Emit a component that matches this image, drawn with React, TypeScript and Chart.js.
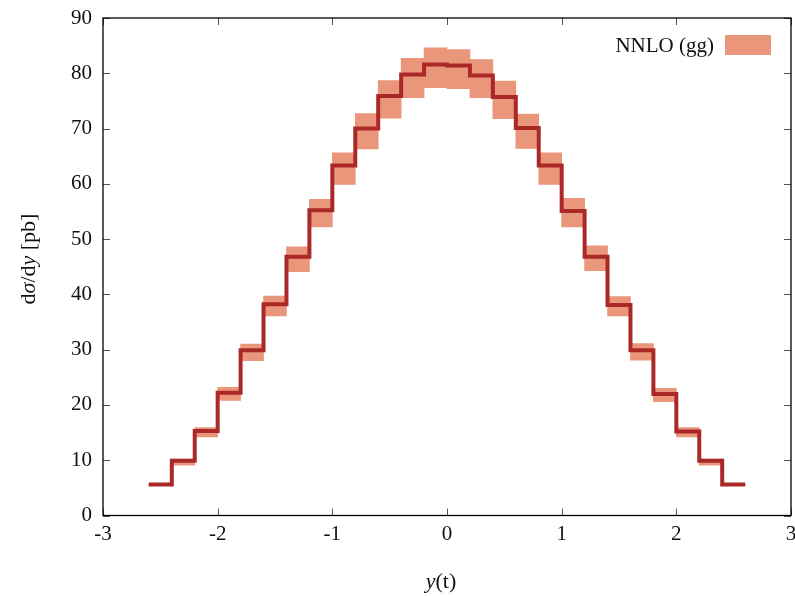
import React, { useEffect, useRef } from "react";
import { Chart, registerables } from "chart.js";

Chart.register(...registerables);

// Bin edges (left edges), width 0.2
const binLeft = [
  -2.6, -2.4, -2.2, -2.0, -1.8, -1.6, -1.4, -1.2, -1.0, -0.8, -0.6, -0.4, -0.2,
  0.0, 0.2, 0.4, 0.6, 0.8, 1.0, 1.2, 1.4, 1.6, 1.8, 2.0, 2.2, 2.4,
];
const binWidth = 0.2;
const central = [
  5.6, 9.9, 15.3, 22.2, 29.9, 38.2, 46.8, 55.2, 63.3, 70.0, 75.9, 79.8, 81.6,
  81.4, 79.6, 75.7, 70.1, 63.3, 55.1, 46.8, 38.1, 29.9, 22.0, 15.2, 9.9, 5.6,
];
const bandLow = [
  5.4, 9.1, 14.2, 20.8, 28.0, 36.1, 44.1, 52.2, 59.9, 66.3, 71.9, 75.6, 77.4,
  77.2, 75.6, 71.8, 66.4, 59.9, 52.2, 44.3, 36.1, 28.1, 20.6, 14.2, 9.1, 5.4,
];
const bandHigh = [
  5.8, 10.2, 15.9, 23.2, 31.0, 39.7, 48.6, 57.2, 65.6, 72.7, 78.7, 82.7, 84.6,
  84.3, 82.5, 78.6, 72.6, 65.6, 57.4, 48.8, 39.6, 31.1, 23.0, 15.9, 10.2, 5.8,
];
const xTicks = [-3, -2, -1, 0, 1, 2, 3];
const yTicks = [0, 10, 20, 30, 40, 50, 60, 70, 80, 90];
const legendLabel = "NNLO (gg)";
const yTitleParts: [string, boolean][] = [
  ["d", false],
  ["σ", true],
  ["/d", false],
  ["y", true],
  [" [pb]", false],
];
const xTitleParts: [string, boolean][] = [
  ["y", true],
  ["(t)", false],
];

const BAND_COLOR = "#ea967a";
const LINE_COLOR = "#aa2828";
const FONT = "'Liberation Serif', 'Times New Roman', serif";

function partsWidth(ctx: CanvasRenderingContext2D, parts: [string, boolean][], size: number) {
  let w = 0;
  for (const [t, it] of parts) {
    ctx.font = `${it ? "italic " : ""}${size}px ${FONT}`;
    w += ctx.measureText(t).width;
  }
  return w;
}
function drawParts(ctx: CanvasRenderingContext2D, parts: [string, boolean][], size: number, x: number, y: number) {
  let cx = x;
  for (const [t, it] of parts) {
    ctx.font = `${it ? "italic " : ""}${size}px ${FONT}`;
    ctx.fillText(t, cx, y);
    cx += ctx.measureText(t).width;
  }
}

const decorPlugin = {
  id: "decor",
  afterDraw(chart: any) {
    const ctx: CanvasRenderingContext2D = chart.ctx;
    const { left, right, top, bottom } = chart.chartArea;
    const xs = chart.scales.x;
    const ys = chart.scales.y;
    ctx.save();
    // ticks (inward, mirrored)
    ctx.strokeStyle = "#555";
    ctx.lineWidth = 1;
    const tl = 7;
    ctx.beginPath();
    for (const v of xTicks) {
      const px = Math.round(xs.getPixelForValue(v)) + 0.5;
      ctx.moveTo(px, bottom);
      ctx.lineTo(px, bottom - tl);
      ctx.moveTo(px, top);
      ctx.lineTo(px, top + tl);
    }
    for (const v of yTicks) {
      const py = Math.round(ys.getPixelForValue(v)) + 0.5;
      ctx.moveTo(left, py);
      ctx.lineTo(left + tl, py);
      ctx.moveTo(right, py);
      ctx.lineTo(right - tl, py);
    }
    ctx.stroke();
    // frame
    ctx.strokeStyle = "#000";
    ctx.lineWidth = 1.3;
    ctx.strokeRect(left, top, right - left, bottom - top);

    ctx.fillStyle = "#111";
    ctx.textBaseline = "alphabetic";
    ctx.textAlign = "left";
    // y title (rotated)
    const ySize = 22;
    const yw = partsWidth(ctx, yTitleParts, ySize);
    ctx.save();
    ctx.translate(35, 259);
    ctx.rotate(-Math.PI / 2);
    drawParts(ctx, yTitleParts, ySize, -yw / 2, 0);
    ctx.restore();
    // x title
    const xSize = 22;
    const xw = partsWidth(ctx, xTitleParts, xSize);
    drawParts(ctx, xTitleParts, xSize, 441 - xw / 2, 588);

    // legend
    ctx.font = `21px ${FONT}`;
    ctx.textAlign = "right";
    ctx.textBaseline = "alphabetic";
    ctx.fillText(legendLabel, 714, 52);
    ctx.fillStyle = BAND_COLOR;
    ctx.fillRect(725, 35, 46, 20);
    ctx.restore();
  },
};

export default function App() {
  const ref = useRef<HTMLCanvasElement | null>(null);
  useEffect(() => {
    document.body.style.margin = "0";
    const canvas = ref.current!;
    const barData = binLeft.map((x0, i) => ({ x: x0 + binWidth / 2, y: [bandLow[i], bandHigh[i]] }));
    const lineData = binLeft.map((x0, i) => ({ x: x0, y: central[i] }));
    lineData.push({ x: binLeft[binLeft.length - 1] + binWidth, y: central[central.length - 1] });

    const chart = new Chart(canvas, {
      type: "bar",
      data: {
        datasets: [
          {
            type: "line",
            label: "central",
            data: lineData as any,
            borderColor: LINE_COLOR,
            borderWidth: 4,
            stepped: "before" as any,
            pointRadius: 0,
            fill: false,
            order: 0,
          } as any,
          {
            type: "bar",
            label: legendLabel,
            data: barData as any,
            backgroundColor: BAND_COLOR,
            borderWidth: 0,
            barPercentage: 1,
            categoryPercentage: 1,
            order: 1,
          } as any,
        ],
      },
      options: {
        animation: false,
        responsive: false,
        maintainAspectRatio: false,
        devicePixelRatio: 1,
        layout: { padding: { top: 18, right: 4, left: 0, bottom: 0 } },
        plugins: { legend: { display: false }, tooltip: { enabled: false } },
        scales: {
          x: {
            type: "linear",
            min: -3,
            max: 3,
            offset: false,
            grid: { display: false, drawTicks: false },
            border: { display: false },
            afterFit: (s: any) => {
              s.height = 80.5;
              s.paddingLeft = 0;
              s.paddingRight = 0;
            },
            afterBuildTicks: (s: any) => {
              s.ticks = xTicks.map((v) => ({ value: v }));
            },
            ticks: {
              padding: 6,
              color: "#111",
              font: { family: FONT, size: 21 },
              callback: (v: any) => String(v),
              maxRotation: 0,
              autoSkip: false,
            },
          },
          y: {
            type: "linear",
            min: 0,
            max: 90,
            grid: { display: false, drawTicks: false },
            border: { display: false },
            afterFit: (s: any) => {
              s.width = 103;
              s.paddingTop = 0;
              s.paddingBottom = 0;
            },
            afterBuildTicks: (s: any) => {
              s.ticks = yTicks.map((v) => ({ value: v }));
            },
            ticks: {
              padding: 11,
              color: "#111",
              font: { family: FONT, size: 21 },
              callback: (v: any) => String(v),
              autoSkip: false,
            },
          },
        },
      },
      plugins: [decorPlugin],
    });
    return () => chart.destroy();
  }, []);
  return (
    <div style={{ width: 795, height: 596 }}>
      <canvas ref={ref} width={795} height={596} style={{ display: "block" }} />
    </div>
  );
}
